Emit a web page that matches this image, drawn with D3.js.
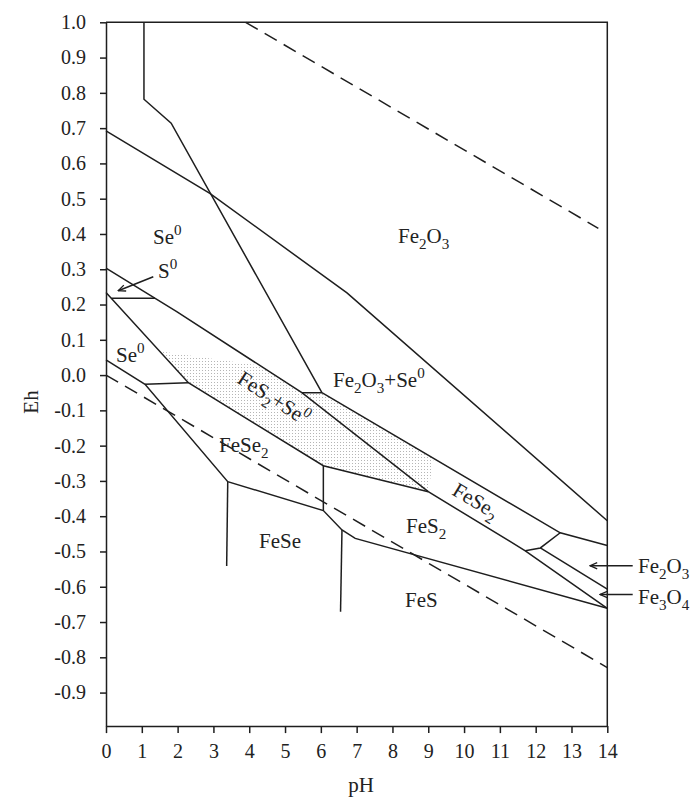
<!DOCTYPE html>
<html><head><meta charset="utf-8">
<script src="https://cdn.jsdelivr.net/npm/d3@7"></script>
<style>
body{margin:0;background:#fff}
svg{display:block}
text{font-family:"Liberation Serif","Times New Roman",serif;fill:#222}
</style>
</head><body><svg id="c" width="691" height="797"></svg>
<script>
// ---- tick values ----
const pHTicks = [0,1,2,3,4,5,6,7,8,9,10,11,12,13,14];
const ehTicks = [1.0,0.9,0.8,0.7,0.6,0.5,0.4,0.3,0.2,0.1,0.0,-0.1,-0.2,-0.3,-0.4,-0.5,-0.6,-0.7,-0.8,-0.9];

// ---- water stability limits (dashed) [pH, Eh] ----
const waterUpper = [[3.9,1.0],[13.75,0.416]];
const waterLower = [[0,0.0],[14,-0.829]];

// ---- phase boundaries [pH, Eh] ----
const fe2o3Boundary = [[1.06,1.0],[1.06,0.782],[1.82,0.714],[6.03,-0.050]];
const seleniteBoundary = [[0,0.692],[2.9,0.515],[6.73,0.233],[14,-0.413]];
const upperSulfurLine = [[0,0.303],[1.975,0.180],[5.47,-0.050],[9.0,-0.3305],[11.71,-0.498],[14,-0.661]];
const s0Base = [[0.15,0.218],[1.37,0.218]];
const fese2Upper = [[0,0.234],[2.30,-0.0215],[6.07,-0.257],[9.0,-0.3305]];
const se0Lower = [[0,0.043],[1.09,-0.026],[3.40,-0.302],[6.07,-0.384],[6.59,-0.439],[6.96,-0.463],[14,-0.661]];
const se0Base = [[1.09,-0.026],[2.30,-0.0215]];
const feseLeft = [[3.40,-0.302],[3.37,-0.541]];
const feseMid = [[6.07,-0.257],[6.07,-0.384]];
const feseRight = [[6.59,-0.439],[6.55,-0.671]];
const fe2o3Se0Base = [[5.47,-0.050],[6.03,-0.050]];
const fese2Band = [[6.03,-0.050],[12.685,-0.447],[14,-0.483]];
const oxideConnector = [[12.685,-0.447],[12.13,-0.490],[11.71,-0.498]];
const fe2o3Fe3o4 = [[12.13,-0.490],[14,-0.607]];
// stippled FeS2+Se0 area
const stippleArea = [[1.5,0.0675],[2.30,-0.0215],[6.07,-0.257],[9.0,-0.3305],[9.15,-0.236],[6.03,-0.050],[5.47,-0.050],[4.3,0.027]];

const solidLines = [fe2o3Boundary, seleniteBoundary, upperSulfurLine, s0Base, fese2Upper, se0Lower, se0Base,
  feseLeft, feseMid, feseRight, fe2o3Se0Base, fese2Band, oxideConnector, fe2o3Fe3o4];

// ---- drawing ----
const svg = d3.select('#c');
const x = d3.scaleLinear().domain([0,14]).range([106,607.3]);
const y = d3.scaleLinear().domain([-0.995,1.0]).range([726.1,22.3]);
const ink = '#1e1e1e';

const defs = svg.append('defs');
const pat = defs.append('pattern').attr('id','dots').attr('patternUnits','userSpaceOnUse')
  .attr('width',3).attr('height',3);
pat.append('rect').attr('x',1).attr('y',1).attr('width',1).attr('height',1).attr('fill','#6a6a6a');
defs.append('marker').attr('id','arr').attr('viewBox','0 0 10 10').attr('refX',9).attr('refY',5)
  .attr('markerWidth',9).attr('markerHeight',9).attr('markerUnits','userSpaceOnUse').attr('orient','auto')
  .append('path').attr('d','M1,1.5 L9,5 L1,8.5').attr('fill','none').attr('stroke',ink).attr('stroke-width',1.5);

const line = d3.line().x(d=>x(d[0])).y(d=>y(d[1]));

// stipple
svg.append('path').attr('d', line(stippleArea)+'Z').attr('fill','url(#dots)').attr('opacity',0.5);

// dashed water lines
[waterUpper, waterLower].forEach(d=>{
  svg.append('path').attr('d', line(d)).attr('fill','none').attr('stroke',ink)
    .attr('stroke-width',1.5).attr('stroke-dasharray','14,8');
});
// solid boundaries
solidLines.forEach(d=>{
  svg.append('path').attr('d', line(d)).attr('fill','none').attr('stroke',ink)
    .attr('stroke-width',1.5).attr('stroke-linejoin','miter');
});

// axes
const fmt = v => (Math.abs(v)<1e-9 ? '0.0' : v.toFixed(1));
const gy = svg.append('g').attr('transform',`translate(${x(0)},0)`)
  .call(d3.axisLeft(y).tickValues(ehTicks).tickSize(6).tickPadding(14).tickSizeOuter(0).tickFormat(fmt));
const gx = svg.append('g').attr('transform',`translate(0,${y(-0.995)})`)
  .call(d3.axisBottom(x).tickValues(pHTicks).tickSize(7).tickPadding(11).tickSizeOuter(0).tickFormat(d3.format('d')));
[gx,gy].forEach(g=>{
  g.selectAll('path,line').attr('stroke',ink).attr('stroke-width',1.5);
  g.selectAll('text').attr('font-size',20).attr('fill','#222').attr('font-family','"Liberation Serif",serif');
});
// top & right frame
svg.append('path').attr('d',`M${x(0)},${y(1)}H${x(14)}V${y(-0.995)}`).attr('fill','none')
  .attr('stroke',ink).attr('stroke-width',1.5);

// axis titles
svg.append('text').attr('x',361).attr('y',792).attr('text-anchor','middle').attr('font-size',21).text('pH');
svg.append('text').attr('transform','translate(38,402) rotate(-90)').attr('text-anchor','middle')
  .attr('font-size',21).text('Eh');

// rich text helper
function rich(px, py, parts, size, rot){
  const t = svg.append('text').attr('font-size',size)
    .attr('transform',`translate(${px},${py})` + (rot?` rotate(${rot})`:''));
  let cur = 0;
  parts.forEach(p=>{
    const s = p[0], k = p[1];
    const target = k==='sub' ? size*0.28 : k==='sup' ? -size*0.42 : 0;
    t.append('tspan').attr('dy', target-cur).attr('font-size', k ? size*0.72 : size).text(s);
    cur = target;
  });
}
const L = 21;
rich(153,244,[['Se'],['0','sup']],L);
rich(158,278,[['S'],['0','sup']],L);
rich(116,362,[['Se'],['0','sup']],L);
rich(398,243,[['Fe'],['2','sub'],['O'],['3','sub']],L);
rich(333,387,[['Fe'],['2','sub'],['O'],['3','sub'],['+Se'],['0','sup']],L);
rich(219,452,[['FeSe'],['2','sub']],L);
rich(259,548,[['FeSe']],L);
rich(406,533,[['FeS'],['2','sub']],L);
rich(405,607,[['FeS']],L);
rich(638,573,[['Fe'],['2','sub'],['O'],['3','sub']],L);
rich(638,604,[['Fe'],['3','sub'],['O'],['4','sub']],L);
rich(236,382,[['FeS'],['2','sub'],['+Se'],['0','sup']],L,33);
rich(451,494,[['FeSe'],['2','sub']],L,31);

// arrows
[[[153.3,276.7],[118.3,290.7]],[[632.7,565.7],[590,565.7]],[[632.7,594.5],[600,594.5]]].forEach(a=>{
  svg.append('line').attr('x1',a[0][0]).attr('y1',a[0][1]).attr('x2',a[1][0]).attr('y2',a[1][1])
    .attr('stroke',ink).attr('stroke-width',1.5).attr('marker-end','url(#arr)');
});
</script></body></html>
